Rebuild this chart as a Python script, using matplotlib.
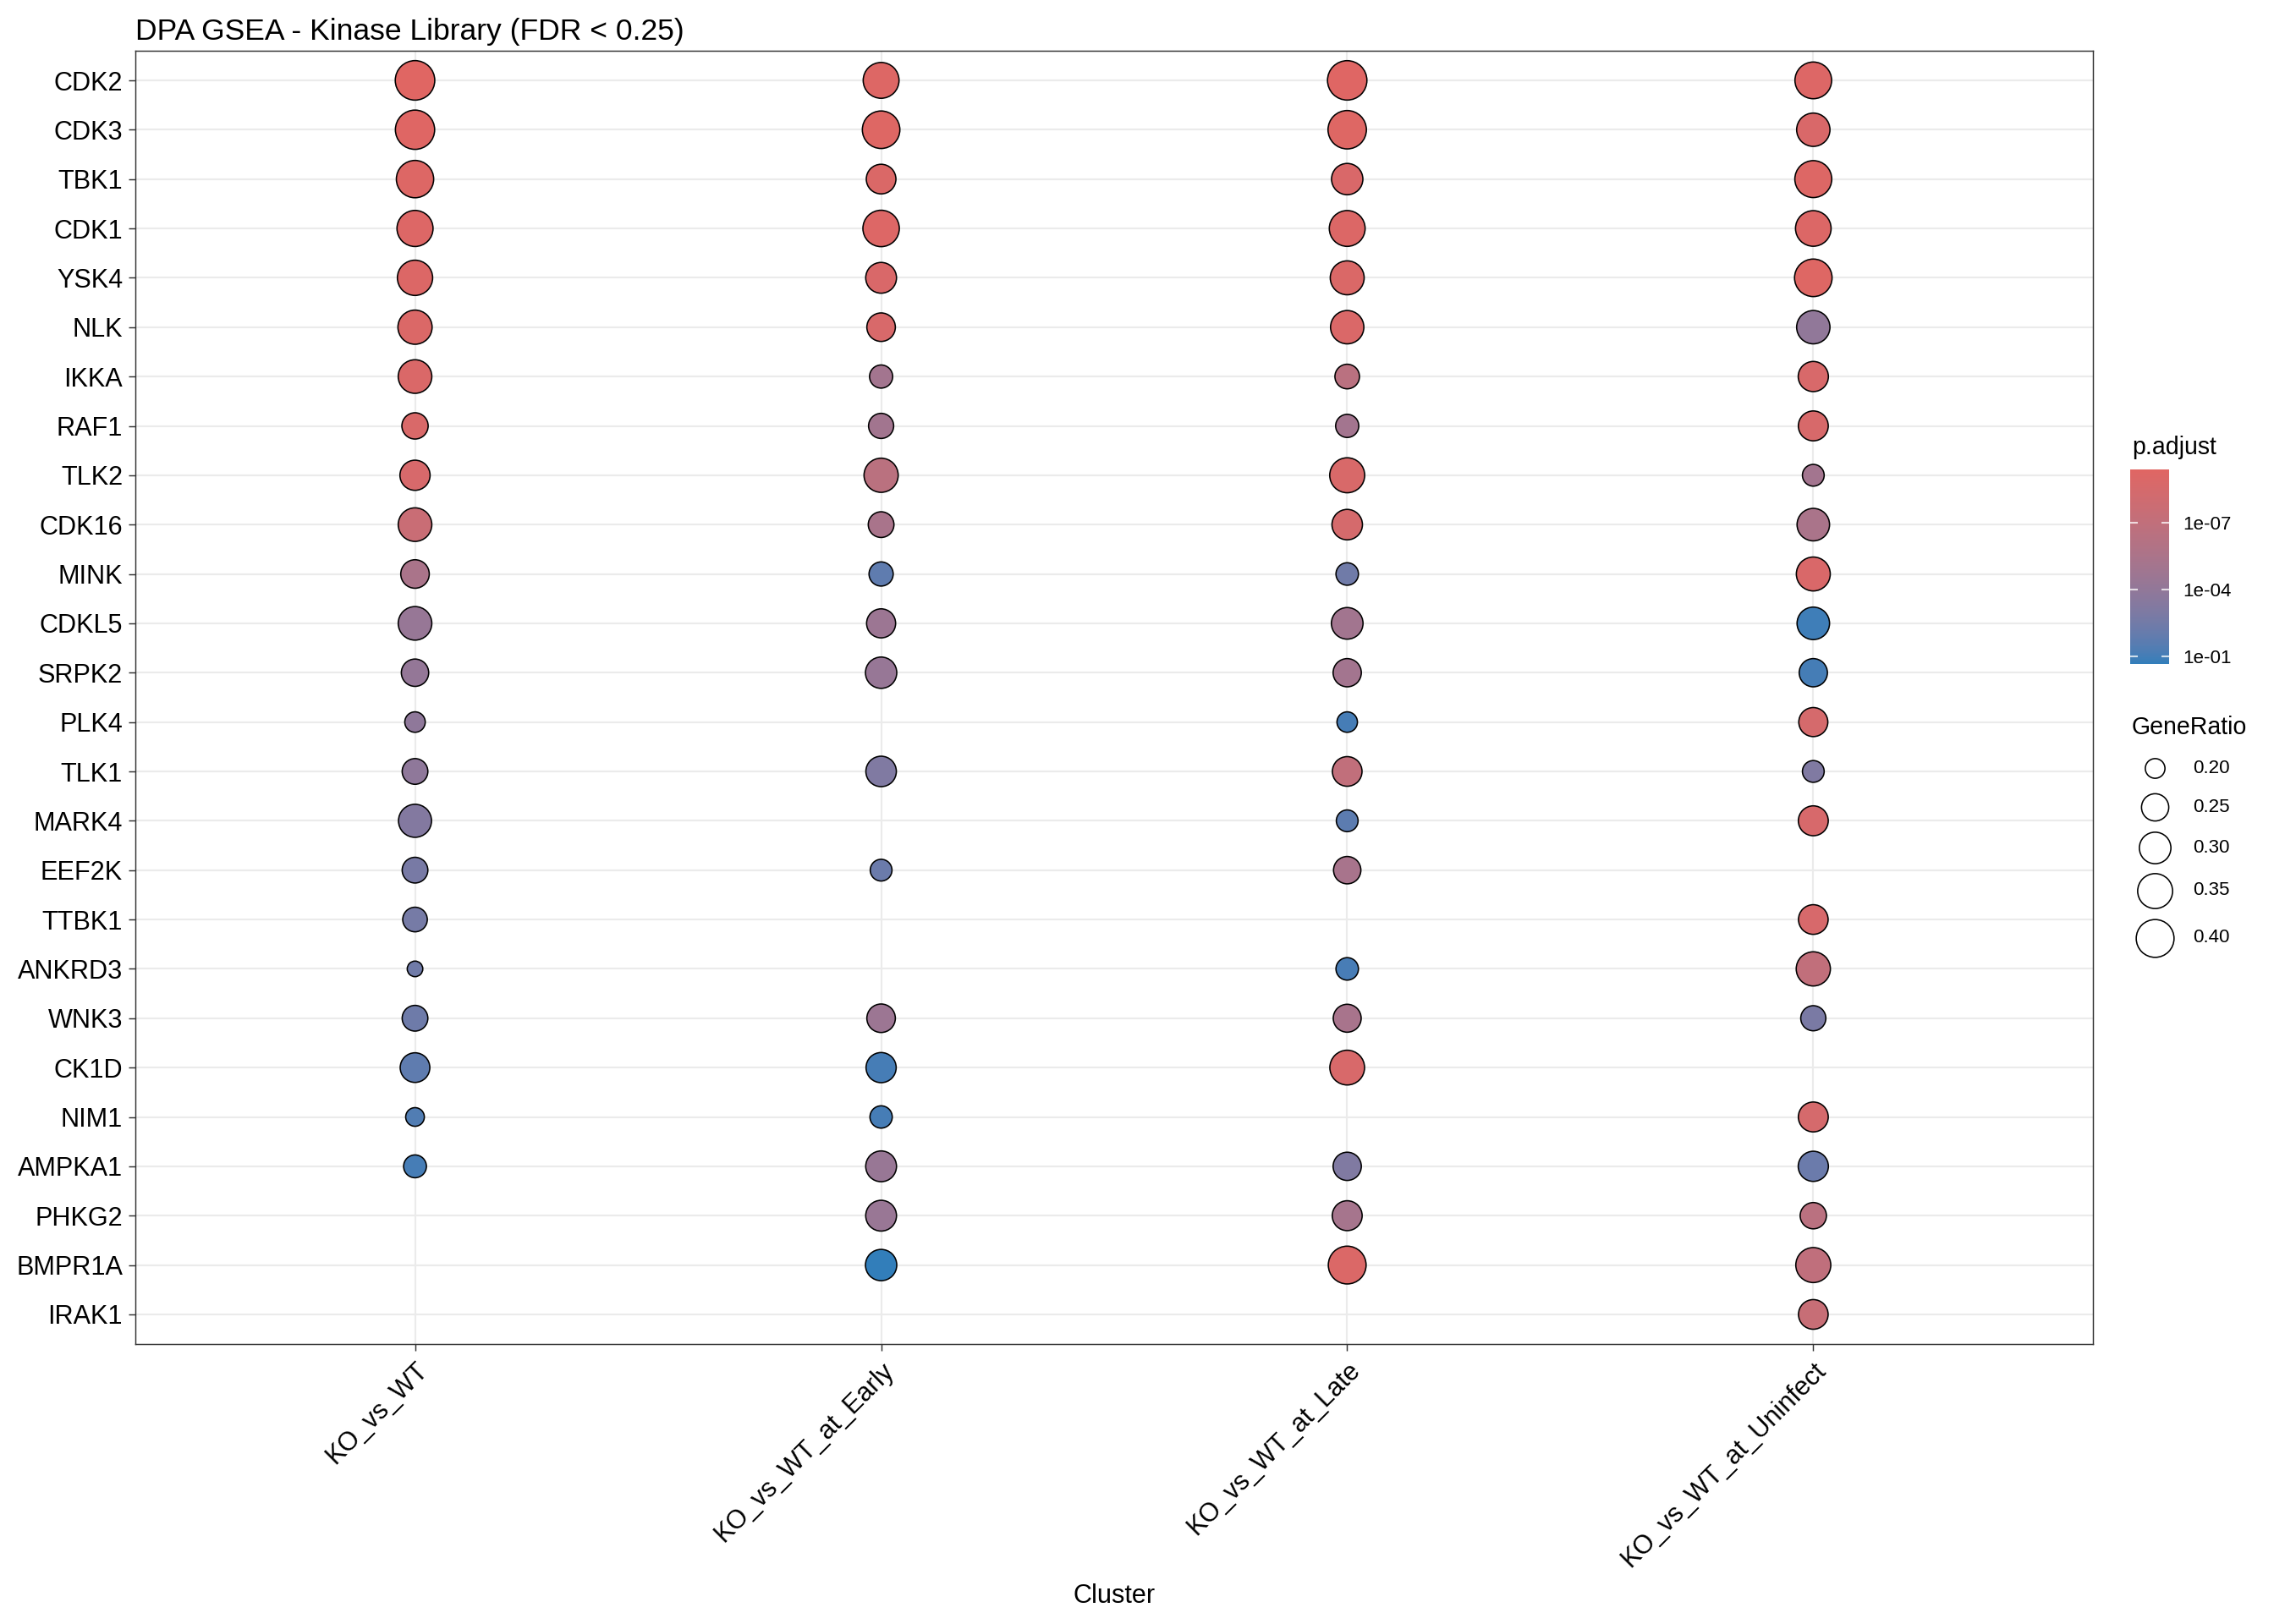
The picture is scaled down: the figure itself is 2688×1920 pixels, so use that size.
import numpy as np
import matplotlib
matplotlib.use("Agg")
import matplotlib.pyplot as plt
from matplotlib.colors import LogNorm, ListedColormap, to_rgb
from matplotlib.cm import ScalarMappable
from matplotlib.ticker import NullLocator

plt.rcParams['font.family'] = ['Liberation Sans', 'DejaVu Sans']

# ---------------- data ----------------
kinases = ['CDK2', 'CDK3', 'TBK1', 'CDK1', 'YSK4', 'NLK', 'IKKA', 'RAF1', 'TLK2',
           'CDK16', 'MINK', 'CDKL5', 'SRPK2', 'PLK4', 'TLK1', 'MARK4', 'EEF2K',
           'TTBK1', 'ANKRD3', 'WNK3', 'CK1D', 'NIM1', 'AMPKA1', 'PHKG2', 'BMPR1A', 'IRAK1']
clusters = ['KO_vs_WT', 'KO_vs_WT_at_Early', 'KO_vs_WT_at_Late', 'KO_vs_WT_at_Uninfect']

gr_ko_vs_wt = [0.433, 0.428, 0.391, 0.369, 0.355, 0.338, 0.329, 0.241, 0.282, 0.329,
               0.263, 0.329, 0.251, 0.203, 0.236, 0.321, 0.236, 0.227, 0.193, 0.236,
               0.276, 0.197, 0.215, None, None, None]
p_ko_vs_wt = [4.2e-10, 5e-10, 7e-10, 8e-10, 9e-10, 1.1e-9, 1.3e-9, 1.6e-9, 2.5e-9, 2.5e-8,
              3.5e-6, 5e-5, 7e-5, 1.3e-4, 1.4e-4, 5.5e-4, 1.8e-3, 2.2e-3, 4e-3, 4.5e-3,
              0.016, 0.045, 0.08, None, None, None]

gr_early = [0.365, 0.395, 0.276, 0.375, 0.290, 0.263, 0.217, 0.231, 0.338, 0.236,
            0.224, 0.269, 0.297, None, 0.286, None, 0.209, None, None, 0.263,
            0.282, 0.212, 0.290, 0.290, 0.297, None]
p_early = [7e-10, 6e-10, 1.2e-9, 8e-10, 1.5e-9, 2e-9, 1e-5, 1.2e-5, 3e-7, 4e-6,
           0.016, 2.6e-5, 5e-5, None, 8e-4, None, 6e-3, None, None, 2.6e-5,
           0.08, 0.085, 4.5e-5, 4e-5, 0.22, None]

gr_late = [0.431, 0.411, 0.297, 0.365, 0.334, 0.325, 0.227, 0.217, 0.351, 0.286,
           0.213, 0.301, 0.260, 0.203, 0.276, 0.209, 0.251, None, 0.213, 0.257,
           0.347, None, 0.260, 0.279, 0.400, None]
p_late = [5e-10, 6e-10, 1.5e-9, 9e-10, 1.2e-9, 1.4e-9, 3.2e-7, 1e-5, 1.8e-9, 3e-9,
          4e-3, 1.1e-5, 1e-5, 0.08, 1e-7, 0.02, 5e-6, None, 0.075, 5e-6,
          2e-9, None, 8e-4, 6.5e-6, 1e-9, None]

gr_uninfect = [0.380, 0.325, 0.384, 0.361, 0.395, 0.325, 0.282, 0.279, 0.209, 0.313,
               0.334, 0.313, 0.260, 0.269, 0.209, 0.279, None, 0.276, 0.338, 0.231,
               None, 0.279, 0.282, 0.241, 0.351, 0.276]
p_uninfect = [8e-10, 1.5e-9, 7e-10, 9e-10, 6e-10, 1.1e-4, 2e-9, 2.2e-9, 1e-5, 3.5e-6,
              1.5e-9, 0.12, 0.09, 3e-9, 8e-4, 2.5e-9, None, 2.5e-9, 9.5e-8, 1.5e-3,
              None, 3e-9, 6e-3, 3.2e-7, 1.2e-7, 3.5e-8]

gene_ratios = [gr_ko_vs_wt, gr_early, gr_late, gr_uninfect]
p_adjusts = [p_ko_vs_wt, p_early, p_late, p_uninfect]

legend_ratios = [0.20, 0.25, 0.30, 0.35, 0.40]
cbar_ticks = [1e-7, 1e-4, 1e-1]
cbar_ticklabels = ['1e-07', '1e-04', '1e-01']

# ---------------- colour scale (CIELAB interpolation, like ggplot) ----------------
_M = np.array([[0.4124564, 0.3575761, 0.1804375],
               [0.2126729, 0.7151522, 0.0721750],
               [0.0193339, 0.1191920, 0.9503041]])
_Minv = np.linalg.inv(_M)
_white = np.array([0.95047, 1.0, 1.08883])


def srgb_to_lab(rgb):
    rgb = np.asarray(rgb, float)
    lin = np.where(rgb <= 0.04045, rgb / 12.92, ((rgb + 0.055) / 1.055) ** 2.4)
    xyz = _M @ lin / _white
    f = np.where(xyz > 0.008856, np.cbrt(xyz), 7.787 * xyz + 16 / 116)
    return np.array([116 * f[1] - 16, 500 * (f[0] - f[1]), 200 * (f[1] - f[2])])


def lab_to_srgb(lab):
    L, a, b = lab
    fy = (L + 16) / 116
    fx = fy + a / 500
    fz = fy - b / 200
    f = np.array([fx, fy, fz])
    xyz = np.where(f ** 3 > 0.008856, f ** 3, (f - 16 / 116) / 7.787) * _white
    lin = np.clip(_Minv @ xyz, 0, None)
    rgb = np.where(lin <= 0.0031308, 12.92 * lin, 1.055 * lin ** (1 / 2.4) - 0.055)
    return np.clip(rgb, 0, 1)


low_col = srgb_to_lab(to_rgb('#e06663'))
high_col = srgb_to_lab(to_rgb('#327eba'))
cmap = ListedColormap([lab_to_srgb(low_col + (high_col - low_col) * t)
                       for t in np.linspace(0, 1, 256)])

all_p = [v for col in p_adjusts for v in col if v is not None]
all_gr = [v for col in gene_ratios for v in col if v is not None]
norm = LogNorm(vmin=min(all_p), vmax=max(all_p))
gr_min, gr_max = min(all_gr), max(all_gr)

DPI = 192
W, H = 2688, 1920
D_MIN, D_MAX = 20.0, 48.3   # outer diameter range in px
LW = 0.6                    # marker edge width (pt)


def size_of(gr):
    d = D_MIN + (D_MAX - D_MIN) * np.sqrt((gr - gr_min) / (gr_max - gr_min))
    d_pt = (d - LW * DPI / 72) * 72 / DPI
    return d_pt ** 2


# ---------------- figure ----------------
fig = plt.figure(figsize=(W / DPI, H / DPI), dpi=DPI)
L, R, T, B = 160, 2474, 60, 1589
ax = fig.add_axes([L / W, 1 - B / H, (R - L) / W, (B - T) / H])

n = len(kinases)
xs, ys, ss, cs = [], [], [], []
for j, (grs, ps) in enumerate(zip(gene_ratios, p_adjusts)):
    for i, (g, p) in enumerate(zip(grs, ps)):
        if g is None or p is None:
            continue
        xs.append(j + 1)
        ys.append(n - i)
        ss.append(size_of(g))
        cs.append(cmap(norm(p)))
ax.scatter(xs, ys, s=ss, c=cs, edgecolors='black', linewidths=LW, zorder=3)

ax.set_xlim(0.4, len(clusters) + 0.6)
ax.set_ylim(0.4, n + 0.6)
ax.set_xticks(range(1, len(clusters) + 1))
ax.set_xticklabels(clusters, rotation=45, ha='right', va='top', rotation_mode='anchor')
ax.set_yticks(range(n, 0, -1))
ax.set_yticklabels(kinases)
ax.grid(True, color='#ebebeb', linewidth=0.8)
ax.set_axisbelow(True)
for sp in ax.spines.values():
    sp.set_color('#333333')
    sp.set_linewidth(0.55)
ax.tick_params(axis='both', length=3, width=0.55, color='#333333', labelsize=11.5,
               labelcolor='black')
ax.tick_params(axis='y', pad=2.6)
ax.tick_params(axis='x', pad=3)

fig.text(L / W, 1 - 47 / H, 'DPA GSEA - Kinase Library (FDR < 0.25)', fontsize=13.3,
         ha='left', va='baseline')
fig.text((L + R) / 2 / W, 1 - 1887 / H, 'Cluster', fontsize=11.5, ha='center', va='center')

# ---------------- colourbar ----------------
cax = fig.add_axes([2518 / W, 1 - 785 / H, 46 / W, 230 / H])
sm = ScalarMappable(norm=norm, cmap=cmap)
cb = fig.colorbar(sm, cax=cax)
cax.invert_yaxis()
cb.outline.set_visible(False)
cb.set_ticks(cbar_ticks)
cb.set_ticklabels(cbar_ticklabels)
cax.yaxis.set_minor_locator(NullLocator())
cax.tick_params(axis='y', which='major', direction='in', length=3.4, width=0.8,
                color=(1, 1, 1, 0.75), left=True, right=True, labelleft=False,
                labelright=True, labelsize=8.4, labelcolor='black', pad=6)
fig.text(2520 / W, 1 - 537 / H, 'p.adjust', fontsize=10.7, ha='left', va='baseline')

# ---------------- size legend ----------------
lax = fig.add_axes([0, 0, 1, 1])
lax.set_xlim(0, W)
lax.set_ylim(H, 0)
lax.axis('off')
lax.patch.set_alpha(0)
fig.text(2520 / W, 1 - 868 / H, 'GeneRatio', fontsize=10.7, ha='left', va='baseline')
key_y = [908, 954, 1002, 1053, 1109]
for v, yk in zip(legend_ratios, key_y):
    lax.scatter([2547], [yk], s=size_of(v), facecolor='white', edgecolor='black',
                linewidths=LW)
    lax.text(2592, yk, f'{v:.2f}', fontsize=8.4, ha='left', va='center')

fig.savefig('out.png', dpi=DPI)
